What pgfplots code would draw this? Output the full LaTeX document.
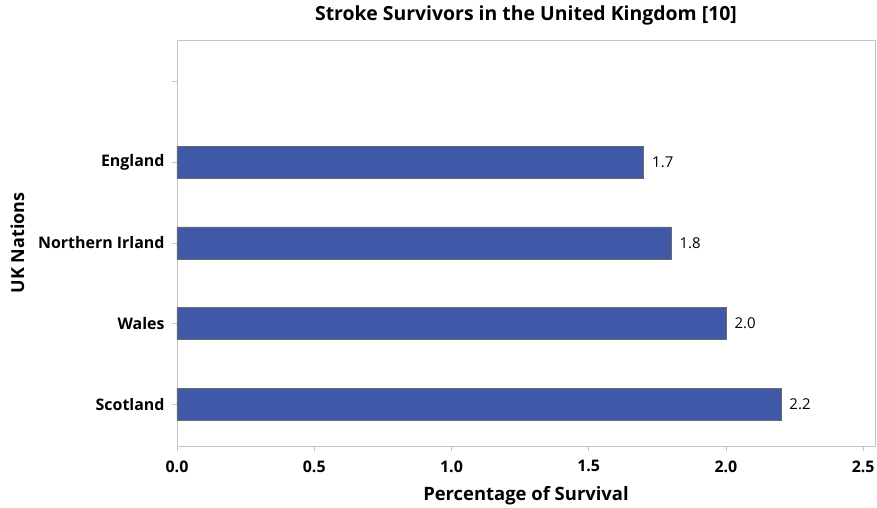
\documentclass[border=0pt]{standalone}
\usepackage{pgfplots}
\pgfplotsset{compat=1.18}
\usepackage{fontspec}
\setmainfont{Open Sans}
\definecolor{barblue}{HTML}{3F58A8}
\definecolor{baredge}{HTML}{6A6A6A}
\definecolor{framegray}{HTML}{C4C4C4}
\begin{document}
\begin{tikzpicture}
\path[use as bounding box] (-177bp,-62bp) rectangle (700bp,446bp);
\begin{axis}[
  at={(0,0)}, anchor=south west,
  scale only axis,
  width=698bp, height=406bp,
  xmin=0, xmax=2.543,
  ymin=-0.52, ymax=4.52,
  xbar, bar width=0.4,
  axis line style={framegray, line width=0.8pt},
  tick style={framegray, line width=0.8pt},
  tick align=outside,
  major tick length=5bp,
  xtick pos=bottom, ytick pos=left,
  xtick={0,0.5,1,1.5,2,2.5},
  ytick={0,1,2,3,4},
  yticklabels={Scotland, Wales, Northern Irland, England, {}},
  /pgf/number format/assume math mode=true,
  xticklabel style={font=\fontsize{16}{18}\selectfont\bfseries, yshift=-6bp,
    /pgf/number format/fixed, /pgf/number format/fixed zerofill,
    /pgf/number format/precision=1},
  yticklabel style={font=\fontsize{16}{18}\selectfont\bfseries, xshift=-4bp},
  xlabel={Percentage of Survival},
  ylabel={UK Nations},
  xlabel style={font=\fontsize{18.5}{21}\selectfont\bfseries, yshift=-7bp},
  ylabel style={font=\fontsize{18}{21}\selectfont\bfseries, yshift=7bp},
  title={Stroke Survivors in the United Kingdom [10]},
  title style={font=\fontsize{19.5}{22}\selectfont\bfseries, yshift=5bp},
  nodes near coords,
  nodes near coords style={font=\fontsize{15}{18}\selectfont, black, xshift=5bp,
    /pgf/number format/fixed, /pgf/number format/fixed zerofill,
    /pgf/number format/precision=1},
  clip=false,
]
\addplot[fill=barblue, draw=baredge, line width=0.6pt] coordinates {
  (2.2,0) (2.0,1) (1.8,2) (1.7,3)
};
\end{axis}
\end{tikzpicture}
\end{document}
